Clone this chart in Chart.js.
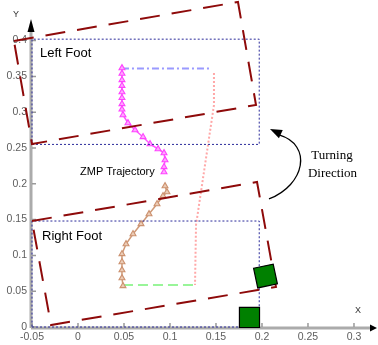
<!DOCTYPE html>
<html>
<head>
<meta charset="utf-8">
<script src="https://cdn.jsdelivr.net/npm/chart.js@4/dist/chart.umd.min.js"></script>
<style>
  html, body { margin: 0; padding: 0; background: #fff; overflow: hidden; }
  #wrap { width: 378px; height: 345px; }
</style>
</head>
<body>
<div id="wrap"><canvas id="c" width="378" height="345"></canvas></div>
<script>
// Axis ticks
const xTicks = [-0.05, 0, 0.05, 0.1, 0.15, 0.2, 0.25, 0.3];
const xTickLabels = ['-0.05', '0', '0.05', '0.1', '0.15', '0.2', '0.25', '0.3'];
const yTicks = [0, 0.05, 0.1, 0.15, 0.2, 0.25, 0.3, 0.35, 0.4];
const yTickLabels = ['0', '0.05', '0.1', '0.15', '0.2', '0.25', '0.3', '0.35', '0.4'];

// ZMP while standing on the left foot (magenta triangles)
const leftZmpX = [0.0478, 0.0478, 0.0478, 0.0478, 0.0478, 0.0478, 0.0478, 0.0478, 0.0489, 0.0543, 0.0620, 0.0707, 0.0783, 0.0870, 0.0935, 0.0946, 0.0935, 0.0935];
const leftZmpY = [0.3617, 0.3540, 0.3450, 0.3370, 0.3282, 0.3200, 0.3115, 0.3040, 0.2961, 0.2849, 0.2751, 0.2654, 0.2556, 0.2486, 0.2430, 0.2332, 0.2235, 0.2165];

// ZMP while standing on the right foot (brown triangles)
const rightZmpX = [0.0489, 0.0478, 0.0478, 0.0478, 0.0478, 0.0522, 0.0598, 0.0685, 0.0772, 0.0859, 0.0924, 0.0967, 0.0946];
const rightZmpY = [0.0573, 0.0684, 0.0796, 0.0908, 0.1020, 0.1159, 0.1299, 0.1439, 0.1578, 0.1718, 0.1830, 0.1885, 0.1969];

// Transfer segments of the ZMP reference
const topTransferX = [0.0478, 0.1450];
const topTransferY = [0.3610, 0.3610];
const swingTransferX = [0.1478, 0.1478, 0.1283, 0.1272];
const swingTransferY = [0.3547, 0.3100, 0.1425, 0.0587];
const startTransferX = [0.0489, 0.1272];
const startTransferY = [0.0587, 0.0587];

// Support polygons before the turn (blue dotted)
const leftSupportX = [-0.05, 0.197, 0.197, -0.05, -0.05];
const leftSupportY = [0.255, 0.255, 0.402, 0.402, 0.255];
const rightSupportX = [-0.05, 0.197, 0.197, -0.05, -0.05];
const rightSupportY = [0, 0, 0.148, 0.148, 0];

// Footprints after the turn (dark red dashed)
const turnedLeftX = [-0.0696, 0.1739, 0.1935, -0.0500, -0.0696];
const turnedLeftY = [0.3994, 0.4539, 0.3101, 0.2556, 0.3994];
const turnedRightX = [-0.0500, 0.1946, 0.2152, -0.0293, -0.0500];
const turnedRightY = [0.1480, 0.2025, 0.0559, 0.0028, 0.1480];

// Square markers (green)
const markerX = [0.1864, 0.2038];
const markerY = [0.0133, 0.0712];
const markerAngle = [0, -12];

// Curved "turning" arrow, in data units: start, two controls, end, tip
const arrowCurveX = [0.2076, 0.2467, 0.2554, 0.2185, 0.2087];
const arrowCurveY = [0.1788, 0.1983, 0.2542, 0.2682, 0.2765];

const pts = (xs, ys) => xs.map((x, i) => ({ x, y: ys[i] }));

const softDraw = {
  id: 'softDraw',
  beforeDatasetDraw(chart, args) {
    if (args.meta && chart.data.datasets[args.index].soft) {
      chart.ctx.save();
      chart.ctx.filter = 'blur(0.7px)';
    }
  },
  afterDatasetDraw(chart, args) {
    if (args.meta && chart.data.datasets[args.index].soft) {
      chart.ctx.restore();
    }
  }
};

const axesAndNotes = {
  id: 'axesAndNotes',
  beforeDatasetsDraw(chart) {
    const ctx = chart.ctx;
    const xs = chart.scales.x, ys = chart.scales.y;
    const a = chart.chartArea;
    ctx.save();
    // axis lines
    ctx.strokeStyle = '#ababab';
    ctx.lineWidth = 3;
    ctx.beginPath();
    ctx.moveTo(a.left - 1, a.bottom + 1);
    ctx.lineTo(a.right, a.bottom + 1);
    ctx.moveTo(a.left - 1, a.bottom + 1);
    ctx.lineTo(a.left - 1, a.top);
    ctx.stroke();
    // tick marks
    ctx.strokeStyle = '#9a9a9a';
    ctx.lineWidth = 1.5;
    ctx.beginPath();
    xTicks.forEach(v => {
      const px = xs.getPixelForValue(v);
      ctx.moveTo(px, a.bottom);
      ctx.lineTo(px, a.bottom - 4);
    });
    yTicks.forEach(v => {
      const py = ys.getPixelForValue(v);
      ctx.moveTo(a.left, py);
      ctx.lineTo(a.left + 4, py);
    });
    ctx.stroke();
    // tick labels
    ctx.filter = 'blur(0.6px)';
    ctx.fillStyle = '#5e5e5e';
    ctx.font = '10.5px "Liberation Sans", Arial, sans-serif';
    ctx.textAlign = 'center';
    ctx.textBaseline = 'middle';
    xTicks.forEach((v, i) => {
      ctx.fillText(xTickLabels[i], xs.getPixelForValue(v), a.bottom + 10);
    });
    ctx.textAlign = 'right';
    yTicks.forEach((v, i) => {
      ctx.fillText(yTickLabels[i], a.left - 5, ys.getPixelForValue(v));
    });
    ctx.restore();
  },
  afterDatasetsDraw(chart) {
    const ctx = chart.ctx;
    const xs = chart.scales.x, ys = chart.scales.y;
    const a = chart.chartArea;
    ctx.save();
    // arrowheads on the axes
    ctx.fillStyle = '#000';
    ctx.beginPath();
    ctx.moveTo(a.right + 6, a.bottom + 1);
    ctx.lineTo(a.right - 1, a.bottom - 2.5);
    ctx.lineTo(a.right - 1, a.bottom + 4.5);
    ctx.closePath();
    ctx.fill();
    ctx.beginPath();
    ctx.moveTo(a.left - 1, a.top - 13);
    ctx.lineTo(a.left - 4.5, a.top);
    ctx.lineTo(a.left + 2.5, a.top);
    ctx.closePath();
    ctx.fill();
    // axis names
    ctx.fillStyle = '#333';
    ctx.font = '9px "Liberation Sans", Arial, sans-serif';
    ctx.textAlign = 'center';
    ctx.textBaseline = 'middle';
    ctx.fillText('Y', a.left - 16, a.top - 17);
    ctx.fillText('X', a.right - 13, a.bottom - 16);

    // text labels
    ctx.fillStyle = '#000';
    ctx.textBaseline = 'alphabetic';
    ctx.textAlign = 'left';
    ctx.font = '13px "Liberation Sans", Arial, sans-serif';
    ctx.fillText('Left Foot', xs.getPixelForValue(-0.0413), ys.getPixelForValue(0.377));
    ctx.fillText('Right Foot', xs.getPixelForValue(-0.0391), ys.getPixelForValue(0.1215));
    ctx.font = '11px "Liberation Sans", Arial, sans-serif';
    ctx.fillText('ZMP Trajectory', xs.getPixelForValue(0.0022), ys.getPixelForValue(0.2123));
    ctx.textAlign = 'center';
    ctx.font = '13px "Liberation Serif", "Times New Roman", serif';
    ctx.fillText('Turning', xs.getPixelForValue(0.2761), ys.getPixelForValue(0.2346));
    ctx.fillText('Direction', xs.getPixelForValue(0.2766), ys.getPixelForValue(0.2095));

    // curved turning arrow
    const P = arrowCurveX.map((x, i) => [xs.getPixelForValue(x), ys.getPixelForValue(arrowCurveY[i])]);
    ctx.strokeStyle = '#000';
    ctx.lineWidth = 1.3;
    ctx.beginPath();
    ctx.moveTo(P[0][0], P[0][1]);
    ctx.bezierCurveTo(P[1][0], P[1][1], P[2][0], P[2][1], P[3][0], P[3][1]);
    ctx.stroke();
    const tip = P[4];
    const dx = tip[0] - P[2][0] * 0.3 - P[3][0] * 0.7;
    const dy = tip[1] - P[2][1] * 0.3 - P[3][1] * 0.7;
    const len = Math.hypot(dx, dy);
    const ux = dx / len, uy = dy / len;
    const hl = 12, hw = 4.5;
    const bx = tip[0] - ux * hl, by = tip[1] - uy * hl;
    ctx.fillStyle = '#000';
    ctx.beginPath();
    ctx.moveTo(tip[0], tip[1]);
    ctx.lineTo(bx - uy * hw, by + ux * hw);
    ctx.lineTo(bx + uy * hw, by - ux * hw);
    ctx.closePath();
    ctx.fill();
    ctx.restore();
  }
};

const lineDs = (data, color, width, dash, extra) => Object.assign({
  data, showLine: true, borderColor: color, borderWidth: width, borderDash: dash,
  pointRadius: 0, pointHoverRadius: 0, fill: false, tension: 0, clip: false,
  borderCapStyle: 'butt'
}, extra || {});

new Chart(document.getElementById('c'), {
  type: 'scatter',
  data: {
    datasets: [
      {
        data: pts(markerX, markerY),
        pointStyle: 'rect',
        pointRadius: 14.2,
        pointHoverRadius: 14.2,
        rotation: markerAngle,
        backgroundColor: '#008000',
        borderColor: '#000',
        borderWidth: 1.2,
        clip: false
      },
      lineDs(pts(turnedLeftX, turnedLeftY), '#8e0a0a', 2, [20, 12]),
      lineDs(pts(turnedRightX, turnedRightY), '#8e0a0a', 2, [20, 12]),
      lineDs(pts(leftSupportX, leftSupportY), '#2a2a9a', 1, [2, 2]),
      lineDs(pts(rightSupportX, rightSupportY), '#2a2a9a', 1, [2, 2]),
      lineDs(pts(leftZmpX, leftZmpY), '#ff55ff', 1.5, [], {
        soft: true, pointStyle: 'triangle', pointRadius: 3.4, pointHoverRadius: 3.4,
        pointBorderColor: '#ff44ff', pointBackgroundColor: '#ffa8ff', pointBorderWidth: 1.1
      }),
      lineDs(pts(rightZmpX, rightZmpY), '#cf9a78', 1.5, [], {
        soft: true, pointStyle: 'triangle', pointRadius: 3.4, pointHoverRadius: 3.4,
        pointBorderColor: '#cc9270', pointBackgroundColor: '#ecccb6', pointBorderWidth: 1.1
      }),
      lineDs(pts(topTransferX, topTransferY), '#9a9aff', 2, [7, 3, 2, 3], { soft: true }),
      lineDs(pts(swingTransferX, swingTransferY), '#ffa8a8', 2, [2, 2], { soft: true }),
      lineDs(pts(startTransferX, startTransferY), '#99f599', 2, [10, 5], { soft: true })
    ]
  },
  options: {
    responsive: false,
    animation: false,
    devicePixelRatio: 1,
    layout: { autoPadding: false, padding: { left: 32, right: 7, top: 32, bottom: 18 } },
    plugins: { legend: { display: false }, tooltip: { enabled: false } },
    events: [],
    scales: {
      x: { type: 'linear', min: -0.05, max: 0.3185, display: false },
      y: { type: 'linear', min: 0, max: 0.412, display: false }
    }
  },
  plugins: [softDraw, axesAndNotes]
});
</script>
</body>
</html>
